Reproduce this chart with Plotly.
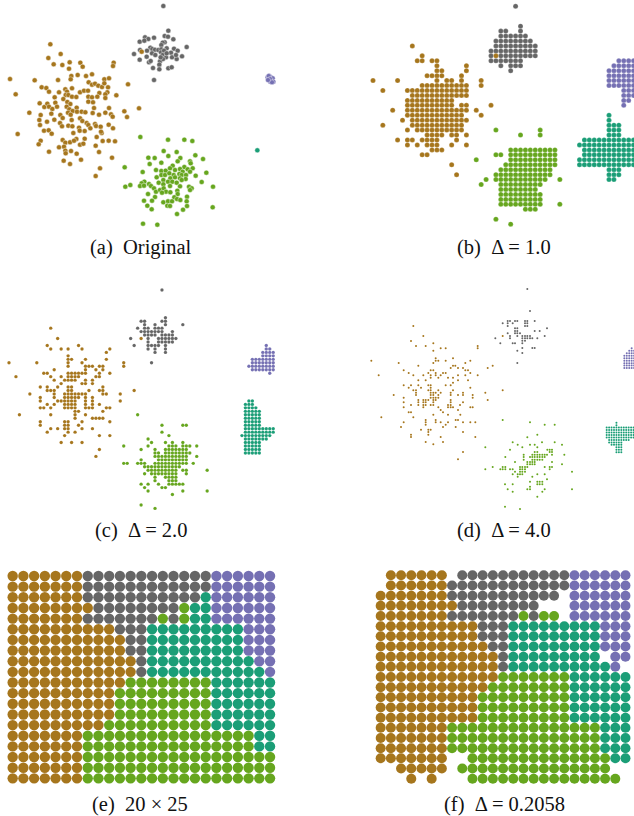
import plotly.graph_objects as go

W_PAGE, H_PAGE = 634, 816
BROWN, GRAY, PURPLE, TEAL, LIME = "#a6761d", "#666666", "#7570b3", "#1b9e77", "#66a61e"
COLORS = {"B": BROWN, "G": GRAY, "P": PURPLE, "T": TEAL, "L": LIME}
CAPTIONS = ["(a)\u00a0 Original", "(b)\u00a0 \u0394 = 1.0", "(c)\u00a0 \u0394 = 2.0",
            "(d)\u00a0 \u0394 = 4.0", "(e)\u00a0 20 \u00d7 25", "(f)\u00a0 \u0394 = 0.2058"]

# ---------- (a) Original
A_GRAY = [(490,18),(505,92),(494,108),(504,110),(520,118),(435,112),(462,113),(445,117),(419,125),(433,122),(494,127),(488,128),(484,135),(560,141),(522,146),(533,152),(451,143),(457,147),(465,149),(475,150),(484,148),(500,145),(402,162),(420,150),(441,152),(456,160),(466,165),(483,157),(492,152),(488,165),(498,172),(513,158),(516,172),(530,177),(528,165),(546,169),(419,179),(440,170),(447,187),(480,184),(489,177),(452,183),(459,204),(478,194),(478,208),(505,205),(515,202),(462,240),(482,172),(500,160)]
A_BROWN = [(425,155),(151,133),(182,162),(145,174),(161,193),(187,195),(209,187),(207,206),(241,188),(248,200),(341,188),(339,198),(30,237),(104,241),(174,240),(214,228),(212,238),(233,225),(258,228),(276,223),(313,238),(327,235),(384,253),(47,283),(125,262),(139,264),(147,275),(164,292),(177,277),(196,268),(201,275),(216,265),(197,285),(205,285),(216,290),(229,291),(240,277),(252,272),(264,272),(266,247),(276,254),(285,251),(295,257),(306,261),(313,250),(324,262),(322,277),(316,283),(316,294),(298,279),(292,290),(265,290),(276,292),(349,286),(265,305),(279,307),(119,310),(133,321),(142,311),(147,320),(157,327),(166,308),(171,320),(190,297),(202,306),(211,312),(200,320),(208,328),(230,323),(218,333),(204,338),(212,344),(231,335),(245,335),(256,337),(282,324),(327,324),(373,334),(417,325),(88,338),(154,341),(278,339),(297,344),(316,338),(333,343),(338,350),(381,351),(122,345),(118,360),(120,375),(141,365),(163,359),(181,345),(188,354),(180,369),(186,379),(205,377),(217,379),(215,360),(240,355),(247,363),(260,369),(265,375),(285,372),(271,385),(288,378),(302,380),(326,374),(339,385),(237,383),(239,392),(132,392),(146,391),(155,401),(53,402),(220,399),(254,393),(305,399),(303,395),(290,411),(229,417),(254,416),(122,422),(116,433),(188,420),(196,428),(210,427),(222,422),(240,434),(250,431),(308,423),(326,422),(345,424),(177,442),(192,440),(287,437),(196,452),(213,453),(147,455),(197,460),(230,461),(297,456),(336,473),(243,479),(191,482),(210,492),(300,505),(287,528)]
A_PURPLE = [(803,232),(806,238),(808,228),(812,232),(814,240),(818,235),(820,245),(811,245),(806,228),(810,237),(816,247),(804,240)]
A_TEAL = [(772,451)]
A_LIME = [(421,411),(504,419),(553,419),(577,423),(491,453),(530,456),(505,468),(541,474),(586,466),(445,473),(464,474),(609,477),(449,492),(484,488),(533,484),(518,497),(553,501),(570,484),(572,490),(374,502),(428,516),(468,510),(484,513),(497,512),(510,505),(525,510),(540,507),(548,515),(563,508),(578,505),(587,527),(619,518),(470,532),(484,525),(495,525),(508,520),(521,525),(538,522),(545,525),(558,525),(570,515),(511,535),(525,532),(540,535),(557,537),(490,540),(504,545),(517,545),(530,548),(545,540),(433,545),(425,550),(420,558),(432,557),(447,552),(453,558),(462,565),(476,548),(490,553),(510,558),(376,560),(391,555),(605,546),(639,560),(468,575),(480,570),(491,565),(498,575),(511,577),(532,572),(540,559),(567,560),(575,565),(570,570),(444,582),(486,578),(533,582),(561,590),(465,591),(456,602),(432,602),(523,592),(531,597),(541,600),(560,604),(490,607),(504,604),(516,604),(442,617),(502,617),(510,618),(561,618),(549,629),(455,628),(531,642),(638,622),(429,671),(472,674)]

# ---------- (b) lattice cells: row -> columns
B_GRAY = {0:"29",4:"30",5:"26,27,30",6:"26-31",7:"25-32",8:"25-33",9:"24-33",10:"24,26-33",11:"24-30",12:"26,28-30",13:"28"}
B_BROWN = {8:"8",10:"10,25",11:"9,10,12,13",12:"13,19",13:"13,14,19",14:"11-14,18",15:"0,5,13,15,16,18,22",16:"10-19,22",17:"2,7-19",18:"8-19",19:"7-16",20:"7-16,18,19,24",21:"4,7-19,21",22:"7-18,22",23:"6,8-19",24:"2,8-18",25:"7,9-18",26:"11-14,16,17,19",27:"5,7,8,10-13,17",28:"7,9,11-13,16,19",29:"12-14",30:"10,11",32:"16",34:"17"}
B_PURPLE = {11:"50-53",12:"49-53",13:"48-53",14:"48-53",15:"48-53",16:"48-53",17:"51-53",18:"51-53",19:"51,52",20:"51"}
B_TEAL = {22:"48",23:"48",24:"48-50",25:"48-50",26:"48-50",27:"43-53",28:"42-53",29:"43-53",30:"43-53",31:"42-53",32:"42-53",33:"48-50",34:"48-50",35:"48,49"}
B_LIME = {25:"25,34",26:"30,34",29:"28-37",30:"25,26,28-37",31:"21,28-37",32:"27-37",33:"26-36",34:"25-36",35:"23,25-35,38",36:"22,26-34",37:"26-33",38:"26-34",39:"26-34",40:"26-34,38",41:"31-33",43:"25",44:"28"}

# ---------- (c) lattice cells
C_GRAY = {0:"44",8:"45",9:"38,39,44,45",10:"39,42,45,50",11:"37,39,40,42-44",12:"38-44,47",13:"39-42,44-47",14:"35,40,43-48",15:"40,43-47",16:"36,40-43,45",17:"40,42,45",18:"42,45",21:"41"}
C_BROWN = {11:"12",14:"14,38",16:"11,20",17:"12,15,17,21,29",18:"28",19:"17",20:"17,18,22,28",21:"0,8,17,21,33",22:"17,22-24,26,27,33",23:"13,22,25,27",24:"10,11,17-22,26,29",25:"2,12,15,17-20,25,26",26:"13,16-19,22,24",27:"15,21,22,24",28:"9,11,14,17,18,27",29:"11-13,17,18,23,26,27,36",30:"6,13,16-22,27,28,32",31:"9,13,16-20,22,24",32:"9,14-19,22,24,32",33:"11,13,16-19,22,24,26",34:"9,10,12,16-19,22-24,28,29",35:"19,20,27",36:"3,12,19,22",37:"19,24-27",38:"9,16,17,21,29",39:"9,16,17,20",40:"12,14,16,17,21,24",41:"11,17,19",42:"16,26,29",44:"15,18,21",46:"26",48:"25"}
C_PURPLE = {16:"74",17:"74,75",18:"73-76",19:"73-76",20:"70-76",21:"70-76",22:"69-76",23:"70-76",24:"75"}
C_TEAL = {32:"69,70",33:"68-70",34:"68-71",35:"68-72",36:"68-72",37:"68-72",38:"68-72",39:"68-72",40:"68-76",41:"68-76",42:"67-75",43:"68-74",44:"68-72",45:"68-72",46:"68-72",47:"68-72"}
C_LIME = {36:"37",39:"44,50,51",41:"44",42:"46",43:"40",44:"41,45,47,50",45:"33,40,46-48,50-52,54",46:"38,42,45-51",47:"42,43,45-52",48:"42-51,54",49:"38,43-51",50:"33,34,37-39,42-51,53",51:"39-49",52:"40-48,50,51,57",53:"39,41-48,51",54:"42,45-48",55:"42,46-48",56:"38,40,43,46-50",57:"39,44,45",58:"40,50,57",59:"47",62:"38",63:"42"}

# ---------- (d) Delta = 4.0
D_GRAY = [(502,27),(510,93),(443,123),(450,123),(465,123),(472,123),(495,123),(502,123),(524,123),(428,130),(443,130),(458,130),(495,130),(502,130),(443,138),(495,138),(502,138),(465,145),(472,145),(524,153),(539,153),(561,145),(443,160),(465,153),(472,153),(465,160),(472,160),(480,160),(450,168),(472,168),(487,168),(495,168),(502,168),(510,168),(554,168),(406,175),(450,175),(487,175),(495,175),(502,175),(510,175),(517,175),(532,175),(487,182),(495,182),(421,190),(458,190),(465,190),(487,190),(517,204),(524,204),(487,204),(472,212),(487,219),(472,249)]
D_BROWN = [(428,168),(160,138),(190,168),(153,183),(168,198),(197,198),(220,190),(220,212),(242,205),(257,205),(353,198),(353,205),(34,242),(116,249),(175,257),(227,235),(227,242),(235,242),(220,249),(257,242),(279,235),(316,249),(331,242),(272,264),(279,257),(286,257),(294,264),(309,264),(316,271),(324,271),(331,279),(398,257),(383,264),(56,286),(131,271),(146,279),(160,286),(175,301),(190,286),(212,271),(220,271),(205,279),(212,286),(227,286),(242,286),(227,279),(235,293),(249,279),(257,279),(264,293),(279,293),(294,286),(316,286),(353,286),(294,301),(324,301),(197,301),(212,293),(279,308),(131,316),(153,316),(146,323),(175,316),(183,323),(160,331),(168,331),(205,316),(212,316),(212,323),(205,331),(212,331),(257,316),(272,316),(279,331),(331,323),(235,331),(227,338),(242,338),(235,345),(376,338),(428,331),(101,345),(272,338),(272,345),(294,345),(309,338),(309,345),(338,345),(338,353),(212,338),(220,338),(212,345),(220,345),(212,353),(220,353),(227,353),(235,353),(131,353),(168,345),(168,338),(383,360),(175,360),(190,360),(197,360),(205,360),(220,360),(227,360),(131,367),(175,367),(190,367),(197,367),(220,367),(272,360),(131,382),(153,375),(175,375),(190,375),(197,375),(212,375),(220,375),(264,375),(272,375),(272,367),(300,375),(309,367),(190,382),(264,382),(272,382),(279,382),(294,390),(331,382),(338,382),(235,382),(242,390),(146,397),(153,397),(249,397),(220,404),(264,404),(301,404),(64,412),(160,412),(227,420),(287,420),(294,420),(131,427),(197,420),(197,427),(227,427),(242,427),(264,427),(309,427),(331,427),(346,427),(197,434),(123,441),(257,434),(249,441),(287,441),(183,449),(205,449),(212,449),(205,456),(205,464),(309,456),(153,464),(153,471),(242,471),(346,471),(197,486),(220,493),(249,486),(309,516),(294,538)]
D_LIME = [(428,420),(510,427),(554,434),(584,434),(532,464),(502,472),(458,487),(473,494),(510,494),(524,494),(546,487),(584,487),(606,494),(376,502),(450,509),(487,502),(532,502),(562,509),(569,509),(576,509),(613,524),(436,531),(465,546),(491,524),(491,531),(491,539),(524,516),(532,516),(517,524),(524,524),(532,524),(539,524),(547,524),(554,524),(561,524),(569,516),(576,516),(576,524),(510,531),(517,531),(524,531),(532,531),(539,531),(547,531),(554,531),(576,546),(502,546),(517,539),(524,539),(532,539),(539,539),(547,539),(510,546),(517,546),(524,546),(502,553),(510,553),(517,553),(524,553),(606,553),(398,561),(428,561),(436,561),(480,561),(487,561),(495,561),(502,561),(376,568),(421,568),(428,568),(436,568),(450,568),(458,568),(480,568),(487,568),(495,568),(554,561),(569,561),(576,561),(569,568),(465,575),(480,575),(487,575),(495,575),(636,575),(458,583),(473,583),(480,583),(487,583),(532,583),(554,583),(473,590),(517,590),(435,613),(458,613),(532,605),(539,605),(547,605),(561,598),(510,605),(532,613),(539,613),(547,613),(510,620),(443,628),(502,628),(510,628),(554,628),(636,628),(458,635),(547,635),(532,650),(435,680),(480,687)]
D_TEAL_CELLS = {0:"4",1:"4",2:"0-11",3:"0-11",4:"0-11",5:"0-11",6:"0-11",7:"1-9",8:"1-6",9:"2-6",10:"4-6",11:"4-6",12:"4-6"}
D_PURPLE_CELLS = {0:"3",1:"2-4",2:"1-4",3:"0-4",4:"0-4",5:"0-4",6:"0-4",7:"0-4",8:"0-4"}

# ---------- (e) 20 x 25 grid
E_ROWS = [
 "BBBBBBBGGGGGGGGGGGGPPPPPP",
 "BBBBBBBGGGGGGGGGGGGPPPPPP",
 "BBBBBBBGGGGGGGGGGGTPPPPPP",
 "BBBBBBBBGGGGGGGGLTTPPPPPP",
 "BBBBBBBGGGGGGGLGLTTPPPPPP",
 "BBBBBBBBBBGGGTTTTTTTTTPPP",
 "BBBBBBBBBBBGGTTTTTTTTTPPP",
 "BBBBBBBBBBBGGTTTTTTTTTPPP",
 "BBBBBBBBBBBBGTTTTTTTTTTPP",
 "BBBBBBBBBBBBGTTTTTTTTTTTP",
 "BBBBBBBBBBBLLLLLLLLTTTTTT",
 "BBBBBBBBBBLLLLLLLLLTTTTTT",
 "BBBBBBBBBBLLLLLLLLLTTTTTT",
 "BBBBBBBBBBLLLLLLLLLTTTTTT",
 "BBBBBBBBBLLLLLLLLLLTTTTTT",
 "BBBBBBBLLLLLLLLLLLLLLLLTT",
 "BBBBBBBLLLLLLLLLLLLLLLLTT",
 "BBBBBBBLLLLLLLLLLLLLLLLLL",
 "BBBBBBBLLLLLLLLLLLLLLLLLL",
 "BBBBBBBLLLLLLLLLLLLLLLLLL",
]
# ---------- (f) Delta = 0.2058 grid
F_ROWS = [
 ".BBBBBB.GGGGGGGGGGGPPPPPP",
 ".BBBBBBGGGGGGGGGGGGPPPPPP",
 "BBBBBBBGGGGGGGGGGG.PPPPPP",
 "BBBBBBBBGGGGGGGG...PPPPPP",
 "BBBBBBBGGGGGGGLGLL.PPPPPP",
 "BBBBBBBBBBGGGTTTTTTTTTPPP",
 "BBBBBBBBBBGGGTTTTTTTTTPPP",
 "BBBBBBBBBBBGGTTTTTTTTTPPP",
 "BBBBBBBBBBBBGTTTTTTTTT.PP",
 "BBBBBBBBBBBBGTTTTTTTTTTP.",
 "BBBBBBBBBBBBLLLLLLLTTTTTT",
 "BBBBBBBBBBBLLLLLLLLTTTTTT",
 "BBBBBBBBBBLLLLLLLLLTTTTTT",
 "BBBBBBBBBBLLLLLLLLLTTTTTT",
 "BBBBBBBBBBLLLLLLLLLTTTTTT",
 "BBBBBBBLLLLLLLLLLLLLLLTTT",
 "BBBBBBBLLLLLLLLLLLLLLLTTT",
 "BBBBBBBLLLLLLLLLLLLLLLTTT",
 "BBBBBBB..LLLLLLLLLLLLLLTT",
 "..BBBBB.LLLLLLLLLLLLLLL..",
 "...B.B...LLLLLLLLLLLLLLL.",
]


def cells(spec):
    xs, ys = [], []
    for row, text in spec.items():
        for part in text.split(","):
            lo, _, hi = part.partition("-")
            for c in range(int(lo), int(hi or lo) + 1):
                xs.append(c)
                ys.append(row)
    return xs, ys


def grid(rows, key):
    pts = [(c, r) for r, s in enumerate(rows) for c, k in enumerate(s) if k == key]
    return [p[0] for p in pts], [p[1] for p in pts]


def xy(pts):
    return [p[0] for p in pts], [p[1] for p in pts]


fig = go.Figure()
# panel: page origin, size, lattice origin and pitch in 3x-crop units
PANELS = [
    dict(ox=0, oy=0, w=280, h=260, x0=0, px=1, y0=0, py=1),
    dict(ox=360, oy=0, w=274, h=260, x0=39, px=14.75, y0=19, py=14.85),
    dict(ox=0, oy=280, w=280, h=265, x0=27, px=10.43, y0=30, py=10.4),
    dict(ox=360, oy=280, w=274, h=265, x0=0, px=1, y0=0, py=1),
    dict(ox=0, oy=560, w=280, h=256, x0=38, px=32.17, y0=48, py=31.95),
    dict(ox=360, oy=560, w=274, h=256, x0=62, px=30.6, y0=46, py=30.5),
]
layout = {}
for i, p in enumerate(PANELS, start=1):
    layout[f"xaxis{i}"] = dict(domain=[p["ox"] / W_PAGE, (p["ox"] + p["w"]) / W_PAGE],
                               range=[-p["x0"] / p["px"], (3 * p["w"] - p["x0"]) / p["px"]],
                               visible=False, anchor=f"y{i}", fixedrange=True)
    layout[f"yaxis{i}"] = dict(domain=[1 - (p["oy"] + p["h"]) / H_PAGE, 1 - p["oy"] / H_PAGE],
                               range=[(3 * p["h"] - p["y0"]) / p["py"], -p["y0"] / p["py"]],
                               visible=False, anchor=f"x{i}", fixedrange=True)


def add(panel, data, key, size, edge=0.0):
    fig.add_trace(go.Scatter(
        x=data[0], y=data[1], mode="markers", showlegend=False, hoverinfo="skip",
        xaxis=f"x{panel}", yaxis=f"y{panel}",
        marker=dict(color=COLORS[key], size=size, line=dict(color="white", width=edge))))


D_TEAL_X0, D_TEAL_Y0, D_PURPLE_X0, D_PURPLE_Y0, D_PX, D_PY = 740, 428, 793, 205, 7.33, 7.4
tc, tr = cells(D_TEAL_CELLS)
pc, pr = cells(D_PURPLE_CELLS)
d_teal = ([D_TEAL_X0 + D_PX * c for c in tc], [D_TEAL_Y0 + D_PY * r for r in tr])
d_purple = ([D_PURPLE_X0 + D_PX * c for c in pc], [D_PURPLE_Y0 + D_PY * r for r in pr])

for data, key in [(xy(A_GRAY), "G"), (xy(A_BROWN), "B"), (xy(A_LIME), "L"), (xy(A_PURPLE), "P"), (xy(A_TEAL), "T")]:
    add(1, data, key, 5, 0.4)
for spec, key in [(B_GRAY, "G"), (B_BROWN, "B"), (B_PURPLE, "P"), (B_TEAL, "T"), (B_LIME, "L")]:
    add(2, cells(spec), key, 5, 0.2)
for spec, key in [(C_GRAY, "G"), (C_BROWN, "B"), (C_PURPLE, "P"), (C_TEAL, "T"), (C_LIME, "L")]:
    add(3, cells(spec), key, 3.4, 0.1)
for data, key in [(xy(D_GRAY), "G"), (xy(D_BROWN), "B"), (xy(D_LIME), "L"), (d_purple, "P"), (d_teal, "T")]:
    add(4, data, key, 2.0, 0)
for key in "BGPTL":
    add(5, grid(E_ROWS, key), key, 10.4)
    add(6, grid(F_ROWS, key), key, 10.0)

CAP_POS = [(141, 247), (504, 247), (141, 530), (504, 530), (140, 804), (504, 804)]
annotations = [dict(text=t, x=x / W_PAGE, y=1 - y / H_PAGE, xref="paper", yref="paper",
                    xanchor="center", yanchor="middle", showarrow=False,
                    font=dict(family="Liberation Serif", size=20.5, color="#111111"))
               for t, (x, y) in zip(CAPTIONS, CAP_POS)]

fig.update_layout(width=W_PAGE, height=H_PAGE, margin=dict(l=0, r=0, t=0, b=0),
                  paper_bgcolor="white", plot_bgcolor="rgba(0,0,0,0)",
                  annotations=annotations, **layout)
fig.write_html("out.html", config=dict(displayModeBar=False),
               post_script="document.body.style.margin='0';document.body.style.overflow='hidden';")
